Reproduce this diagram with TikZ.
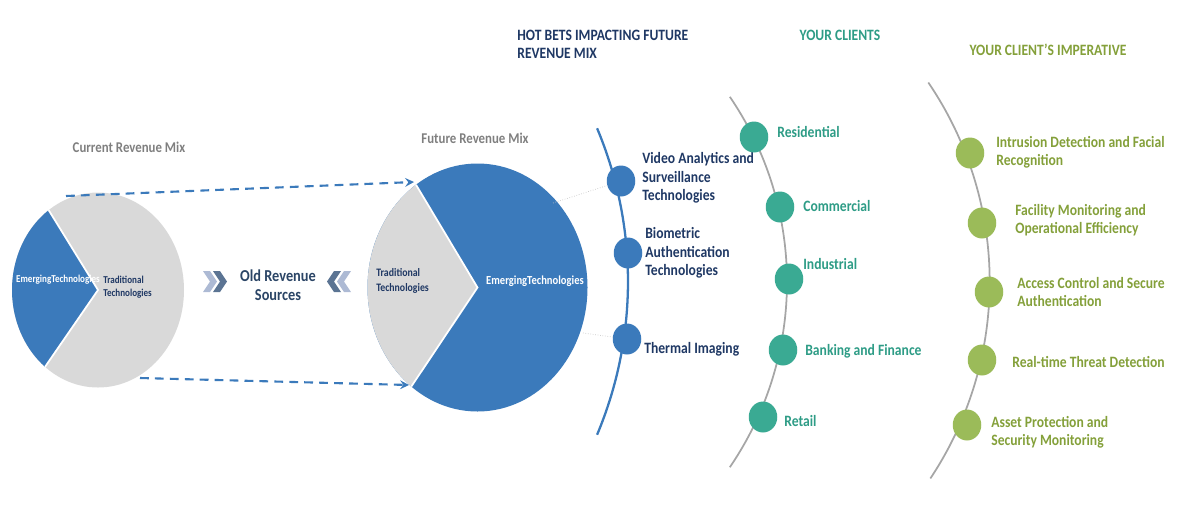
\documentclass[tikz,border=0pt]{standalone}
\usepackage{fontspec}
\setmainfont{Carlito}[FakeStretch=0.86]
\usepackage{tikz}
\usetikzlibrary{arrows,positioning,shapes.geometric}
\usepackage{xcolor}
\definecolor{pieblue}{HTML}{3B7ABB}
\definecolor{piegray}{HTML}{D9D9D9}
\definecolor{navy}{HTML}{1F3864}
\definecolor{slate}{HTML}{2B4566}
\definecolor{midgray}{HTML}{7F7F7F}
\definecolor{arcgray}{HTML}{A6A6A6}
\definecolor{tealdot}{HTML}{3AAA93}
\definecolor{tealtxt}{HTML}{2E9C86}
\definecolor{greendot}{HTML}{9BBB59}
\definecolor{greentxt}{HTML}{84A03A}
\definecolor{chevlight}{HTML}{ADBAD4}
\definecolor{chevdark}{HTML}{5B7493}

\begin{document}
\begin{tikzpicture}[x=0.02cm, y=0.02cm, >=stealth,
every node/.style={font=\bfseries\fontsize{9}{10.5}\selectfont, inner sep=0pt},
lab/.style={anchor=west, align=left},
pielab/.style={font=\bfseries\fontsize{6}{7.5}\selectfont, align=left},
dotb/.style={ellipse, fill=pieblue, minimum width=0.57cm, minimum height=0.62cm},
dott/.style={ellipse, fill=tealdot, minimum width=0.57cm, minimum height=0.62cm},
dotg/.style={ellipse, fill=greendot, minimum width=0.57cm, minimum height=0.62cm},
arr/.style={->, line width=1.2pt, draw=pieblue, dash pattern=on 5pt off 3.5pt},
lnk/.style={draw=black!22, line width=0.4pt, densely dotted}]
\useasboundingbox (0,0) rectangle (1180,-505);

% headings
\node[lab, text=navy] (hot) at (517,-44.5) {HOT BETS IMPACTING FUTURE\\REVENUE MIX};
\node[text=tealtxt] (cli) at (840,-35) {YOUR CLIENTS};
\node[text=greentxt] (imp) at (1048,-50) {YOUR CLIENT'S IMPERATIVE};
\node[text=midgray, font=\bfseries\fontsize{8.5}{10}\selectfont] (cur) at (129,-147) {Current Revenue Mix};
\node[text=midgray, font=\bfseries\fontsize{8.5}{10}\selectfont] (fut) at (475,-138) {Future Revenue Mix};

% current pie
\coordinate (cp) at (98,-290);
\fill[piegray] (cp) ellipse [x radius=86, y radius=97.5];
\fill[pieblue] (cp) -- ++(125:86 and 97.5) arc[start angle=125, end angle=232, x radius=86, y radius=97.5] -- cycle;
\draw[white, line width=1pt] (cp) ++(125:86 and 97.5) -- (cp) -- ++(232:86 and 97.5);
\node[pielab, text=white] (cpe) at (58,-280) {EmergingTechnologies};
\node[pielab, text=navy, anchor=west] (cpt) at (103,-287) {Traditional\\Technologies};

% future pie
\coordinate (fp) at (477.5,-287.5);
\fill[pieblue] (fp) ellipse [x radius=110, y radius=124];
\fill[piegray] (fp) -- ++(124:110 and 124) arc[start angle=124, end angle=233, x radius=110, y radius=124] -- cycle;
\draw[white, line width=1pt] (fp) ++(124:110 and 124) -- (fp) -- ++(233:110 and 124);
\node[pielab, text=navy, anchor=west, font=\bfseries\fontsize{6.5}{8.5}\selectfont] (fpt) at (376,-281) {Traditional\\Technologies};
\node[pielab, text=white, font=\bfseries\fontsize{7}{8.5}\selectfont] (fpe) at (535,-281) {EmergingTechnologies};

% dashed arrows between the pies
\coordinate (cpT) at (66,-196);
\coordinate (cpB) at (140,-378);
\coordinate (fpT) at (414,-182);
\coordinate (fpB) at (409,-385);
\draw[arr] (cpT) -- (fpT);
\draw[arr] (cpB) -- (fpB);

% old revenue sources
\fill[chevlight] (203,-271) -- (210,-271) -- (217,-281.5) -- (210,-292) -- (203,-292) -- (210,-281.5) -- cycle;
\fill[chevdark] (213,-271) -- (220,-271) -- (227,-281.5) -- (220,-292) -- (213,-292) -- (220,-281.5) -- cycle;
\fill[chevdark] (327,-281.5) -- (334,-271) -- (341,-271) -- (334,-281.5) -- (341,-292) -- (334,-292) -- cycle;
\fill[chevlight] (337,-281.5) -- (344,-271) -- (351,-271) -- (344,-281.5) -- (351,-292) -- (344,-292) -- cycle;
\node[text=slate, align=center, font=\bfseries\fontsize{9.5}{11}\selectfont] (old) at (278,-285) {Old Revenue\\Sources};

% hot bets arc
\draw[pieblue, line width=1.3pt] (232.5,-281.5) ++(22.8:395.5) arc[start angle=22.8, end angle=-22.8, radius=395.5];
\node[dotb] (v1) at (621,-181) {};
\node[dotb] (v2) at (628,-253) {};
\node[dotb] (v3) at (627,-339) {};
\node[lab, text=navy] (v1l) at (642,-178) {Video Analytics and\\Surveillance\\Technologies};
\node[lab, text=navy] (v2l) at (645,-253) {Biometric\\Authentication\\Technologies};
\node[lab, text=navy] (v3l) at (644,-349) {Thermal Imaging};
\coordinate (fpA) at (553,-203);
\coordinate (fpC) at (583,-333);
\draw[lnk] (fpA) -- (v1);
\draw[lnk] (fpC) -- (v3);

% clients arc
\draw[arcgray, line width=1pt] (458.3,-282) ++(34.3:328.7) arc[start angle=34.3, end angle=-34.3, radius=328.7];
\node[dott] (c1) at (754,-137) {};
\node[dott] (c2) at (780,-207) {};
\node[dott] (c3) at (789,-279) {};
\node[dott] (c4) at (783,-350) {};
\node[dott] (c5) at (763,-417) {};
\node[lab, text=tealtxt] (c1l) at (777,-132) {Residential};
\node[lab, text=tealtxt] (c2l) at (803,-206) {Commercial};
\node[lab, text=tealtxt] (c3l) at (803,-264) {Industrial};
\node[lab, text=tealtxt] (c4l) at (805,-351) {Banking and Finance};
\node[lab, text=tealtxt] (c5l) at (784,-421) {Retail};

% imperative arc
\draw[arcgray, line width=1pt] (634.7,-282) ++(34.2:355) arc[start angle=34.2, end angle=-33.6, radius=355];
\node[dotg] (g1) at (970,-153) {};
\node[dotg] (g2) at (982,-223) {};
\node[dotg] (g3) at (989,-292) {};
\node[dotg] (g4) at (982,-360) {};
\node[dotg] (g5) at (967,-425) {};
\node[lab, text=greentxt] (g1l) at (996,-152) {Intrusion Detection and Facial\\Recognition};
\node[lab, text=greentxt] (g2l) at (1015,-220) {Facility Monitoring and\\Operational Efficiency};
\node[lab, text=greentxt] (g3l) at (1017,-292) {Access Control and Secure\\Authentication};
\node[lab, text=greentxt] (g4l) at (1012,-362) {Real-time Threat Detection};
\node[lab, text=greentxt] (g5l) at (991,-432) {Asset Protection and\\Security Monitoring};
\end{tikzpicture}
\end{document}
